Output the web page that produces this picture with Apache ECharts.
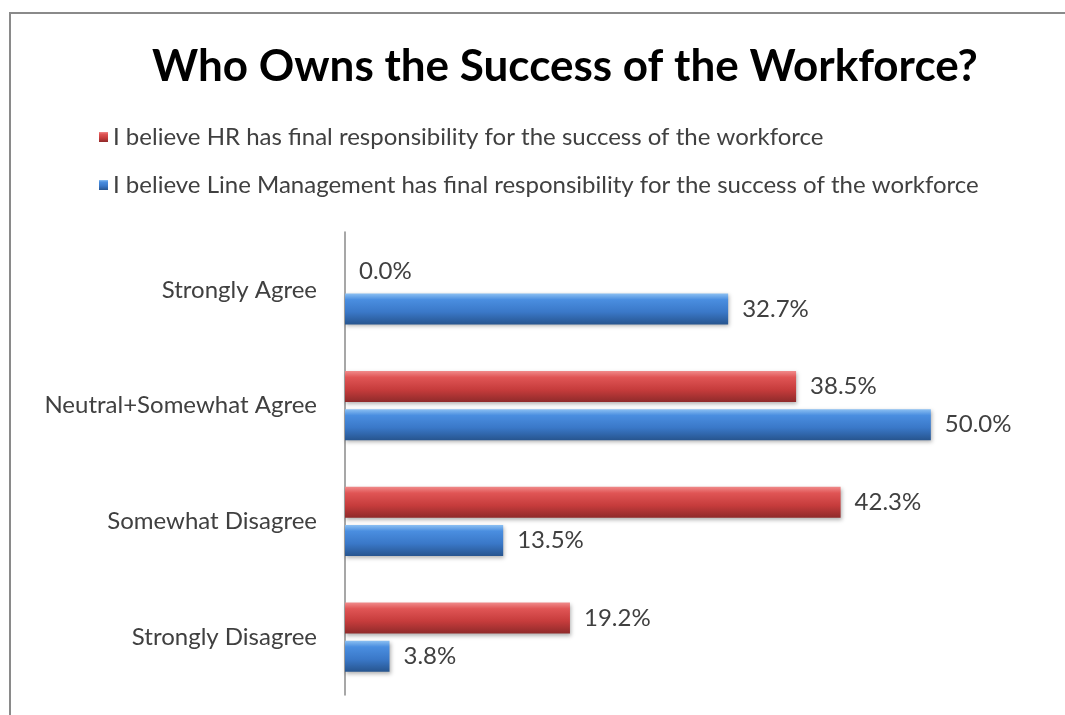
<!DOCTYPE html>
<html>
<head>
<meta charset="utf-8">
<script src="https://cdn.jsdelivr.net/npm/echarts@6/dist/echarts.min.js"></script>
<style>
html,body{margin:0;padding:0;background:#fff;overflow:hidden;}
#main{position:absolute;left:0;top:0;width:1065px;height:715px;}
</style>
</head>
<body>
<div id="main"></div>
<script>
const titleText = 'Who Owns the Success of the Workforce?';
const categories = ['Strongly Agree', 'Neutral+Somewhat Agree', 'Somewhat Disagree', 'Strongly Disagree'];
const seriesNames = [
  'I believe HR has final responsibility for the success of the workforce',
  'I believe Line Management has final responsibility for the success of the workforce'
];
const hrValues = [0.0, 38.5, 42.3, 19.2];
const lineValues = [32.7, 50.0, 13.5, 3.8];

const font = 'Lato, "Open Sans", sans-serif';
const chart = echarts.init(document.getElementById('main'), null, {renderer: 'canvas'});

function grad(c0, c1, c2, c3) {
  return new echarts.graphic.LinearGradient(0, 0, 0, 1, [
    {offset: 0, color: c0},
    {offset: 0.2, color: c1},
    {offset: 0.6, color: c2},
    {offset: 1, color: c3}
  ]);
}
const labelCfg = {
  show: true, position: 'right', distance: 14,
  fontSize: 24, color: '#404040', fontFamily: font,
  formatter: p => p.value.toFixed(1) + '%'
};

chart.setOption({
  backgroundColor: '#fff',
  animation: false,
  graphic: [
    {type: 'line', shape: {x1: 9, y1: 13, x2: 1065, y2: 13}, style: {stroke: '#8a8a8a', lineWidth: 2}, silent: true},
    {type: 'line', shape: {x1: 10, y1: 12, x2: 10, y2: 715}, style: {stroke: '#8a8a8a', lineWidth: 2}, silent: true}
  ],
  title: {
    text: titleText, left: 147, top: 40,
    textStyle: {fontSize: 44, fontWeight: 'bold', color: '#000', fontFamily: font}
  },
  legend: {
    orient: 'vertical', left: 94, top: 118,
    itemWidth: 9, itemHeight: 10, itemGap: 20,
    icon: 'rect',
    textStyle: {fontSize: 24, lineHeight: 28, color: '#404040', fontFamily: font},
    data: seriesNames
  },
  grid: {left: 345, top: 232, width: 703, height: 463, containLabel: false},
  xAxis: {
    type: 'value', min: 0, max: 60,
    show: false
  },
  yAxis: {
    type: 'category', inverse: true, data: categories,
    axisLine: {show: true, lineStyle: {color: '#8a8a8a', width: 1.5}},
    axisTick: {show: false},
    axisLabel: {fontSize: 24, color: '#404040', margin: 28, fontFamily: font}
  },
  series: [
    {
      name: seriesNames[0], type: 'bar', data: hrValues,
      barWidth: 31, barGap: '23%',
      itemStyle: {
        color: grad('#f08a8a', '#e05555', '#c63c3c', '#8f2a2a'),
        shadowColor: 'rgba(0,0,0,0.3)', shadowBlur: 4, shadowOffsetY: 2, shadowOffsetX: 1
      },
      label: labelCfg
    },
    {
      name: seriesNames[1], type: 'bar', data: lineValues,
      barWidth: 31, barGap: '23%',
      itemStyle: {
        color: grad('#8cc0f2', '#4a8ee0', '#3a78c8', '#27558f'),
        shadowColor: 'rgba(0,0,0,0.3)', shadowBlur: 4, shadowOffsetY: 2, shadowOffsetX: 1
      },
      label: labelCfg
    }
  ]
});
</script>
</body>
</html>
